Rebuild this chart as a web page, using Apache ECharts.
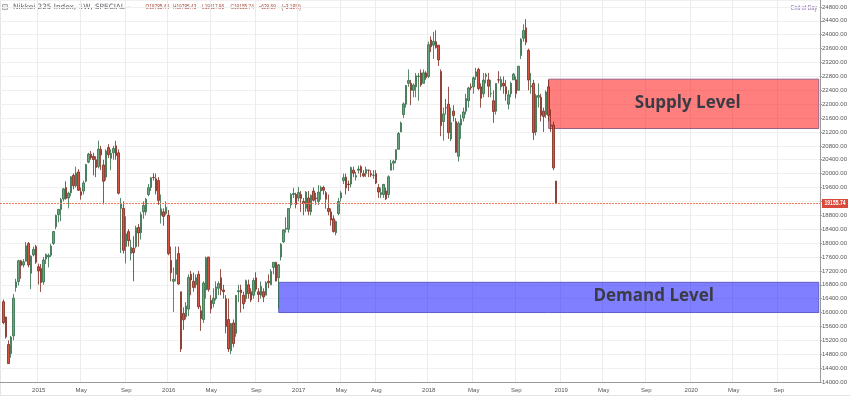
<!DOCTYPE html>
<html>
<head>
<meta charset="utf-8">
<script src="https://cdn.jsdelivr.net/npm/echarts@6/dist/echarts.min.js"></script>
<style>
html,body{margin:0;padding:0;background:#fff;}
#chart{width:850px;height:399px;}
</style>
</head>
<body>
<div id="chart"></div>
<script>
// ---- axis range (weekly categories) ----
const axisFirstWeek = '2014-09-22';
const axisLastWeek = '2020-12-28';
const candleFirstWeek = '2014-09-29';

// ---- weekly OHLC, Nikkei 225 ----
const opens = [
16310,15870,15080,14820,15330,16720,16890,17490,17370,17480,17990,17130,17660,17900,
17320,17270,16880,17540,17600,17650,17990,18470,18820,18970,19270,19600,19300,19450,19950,19650,20050,19480,19500,19780,20330,20560,20500,20400,20200,20700,20250,19900,20750,20440,20600,20800,20600,19000,19000,17900,18330,17700,17850,17900,18450,18300,18900,18900,19400,19600,19890,19850,19800,18800,18900,18850,
18800,17500,16900,17100,17700,16600,15975,15880,16100,17100,16900,16800,17100,16050,15800,16650,17600,16350,16260,16400,16700,17000,16650,16400,15800,14900,15700,15400,16600,16650,16500,16400,16800,16600,16500,17000,16600,16500,16600,16500,16900,16800,17300,17450,17000,17600,18040,18400,18400,19100,19400,19400,
19300,19400,19200,19000,19300,18900,19500,19300,19200,19500,19600,19450,19000,18900,18700,18300,18850,19300,19800,19900,19700,19700,20100,19900,20100,20200,20000,20000,20100,20000,19950,20000,19600,19400,19400,19500,19400,20100,20300,20400,20700,21200,21700,22000,22600,22600,22400,22500,22800,22900,22600,22900,
22800,23850,23700,23800,23700,22940,21500,21900,22000,21000,21800,21500,20500,21400,21600,21800,22100,22500,22500,22800,23000,22500,22300,22800,22700,22300,22100,21800,22700,22500,22600,22500,22000,22300,22700,22700,22400,23400,23900,24200,23550,22500,22600,21200,22200,22200,21800,21700,22500,21400,21400,19785.43
];
const highs = [
16374,15880,15200,15330,16533,16973,17520,17520,17540,18030,18030,17650,17900,17950,
17410,17400,17600,17700,17700,17980,18350,18820,18980,19300,19590,19780,19480,19930,20006,20200,20130,19600,19800,20280,20600,20655,20600,20500,20952,20800,20400,20700,20850,20700,20800,20946,20700,19300,19200,18770,18400,18100,18200,18500,18550,18900,19200,19300,19700,19900,20012,20000,19900,19400,19000,19200,
18951,17900,17300,17900,17900,16600,16150,16300,17100,17200,17150,17100,17200,16200,16900,17613,17600,16500,16700,16900,16900,17251,16800,16500,16400,15700,15800,16500,16800,16800,16600,16950,16950,16700,17000,17159,16700,16900,16700,16900,17100,17250,17450,17450,17400,18000,18400,18746,19000,19439,19592,19450,
19615,19500,19300,19500,19500,19400,19600,19450,19668,19650,19650,19500,19400,19000,18800,18650,19300,19500,20000,20000,19800,20200,20200,20050,20230,20240,20100,20200,20100,20100,20100,20100,19700,19600,19700,19600,19950,20400,20400,20700,21200,21500,22050,22550,23000,22700,22600,22900,22900,23000,23000,22950,
23800,23952,24084,24129,23700,23000,21900,22150,22500,21900,21970,21600,21500,21700,21900,22300,22500,22600,22800,23050,23050,22600,22900,22900,22900,22700,22400,22600,22949,22800,22800,22700,22400,22650,22900,22800,23100,23900,24300,24448,23600,22900,22700,22300,22600,22300,21900,22400,22700,21850,21500,19785.43
];
const lows = [
15661,15250,14529,14700,15200,16600,16780,16973,17300,17470,17300,16672,17620,17400,
16808,16592,16800,17400,17300,17600,17950,18400,18600,18630,19200,19250,19000,19350,19550,19600,19500,19250,19400,19750,20300,20400,19950,19900,20150,20100,19115,19800,20450,20100,20400,20400,19400,17714,17700,17415,17900,17500,16901,17850,17900,18100,18700,18800,19350,19500,19800,19400,19100,18562,18500,18800,
17650,16900,16017,16900,16800,14865,15500,15800,15900,16500,16600,16700,16100,15471,15700,16400,16600,15975,16150,16350,16500,16500,16400,15400,14864,14800,15000,15300,16300,16000,16100,16300,16400,16300,16400,16600,16300,16400,16300,16500,16700,16800,17100,16900,16111,17500,18000,18300,18300,19000,19300,19000,
19200,18900,18800,18900,18800,18800,19200,19100,19100,19250,19400,18990,18800,18500,18300,18224,18800,19200,19700,19400,19500,19600,19900,19800,20000,19900,19900,19900,19900,19900,19850,19700,19300,19300,19300,19239,19300,20100,20100,20300,20700,21200,21600,21900,22500,21972,22200,22200,22100,22500,22600,22700,
22750,23500,23300,23600,23100,21078,20950,21700,21000,20937,21500,20600,20347,21000,21500,21700,21900,22400,22300,22700,22400,21900,22200,22600,22200,22200,21462,21700,22600,22400,22300,22100,21851,22200,22700,22170,22400,23300,23800,23700,22400,22300,20971,21100,21900,21500,21200,21600,21500,21200,20100,19117.96
];
const closes = [
15708,15300,14532,15291,16413,16880,17490,17357,17460,17920,17371,17621,17818,17451,
17197,16864,17511,17674,17648,17913,18332,18798,18971,19254,19560,19286,19435,19908,19652,20020,19520,19379,19732,20264,20563,20460,20407,20174,20706,20539,19779,20650,20544,20585,20724,20519,19435,19136,17792,18264,18070,17880,17725,18438,18291,18825,19083,19265,19596,19879,19883,19504,19230,18986,18769,19033,
17697,17147,16958,17518,16820,14952,15790,16188,17014,16938,16724,17002,16164,15821,16848,17572,16666,16106,16412,16736,16834,16642,16601,15599,14952,15682,15106,16497,16627,16569,16254,16919,16545,16360,16925,16673,16519,16754,16449,16860,16856,17184,17446,16905,17374,17967,18381,18426,18996,19401,19427,19114,
19454,19287,19137,19467,18918,19378,19234,19283,19469,19604,19521,19262,18909,18664,18335,18620,19196,19445,19883,19590,19686,20177,20013,19943,20132,20033,19929,20118,20099,19959,19952,19729,19470,19452,19691,19274,19909,20296,20356,20690,21155,21457,22008,22539,22681,22396,22551,22819,22811,22553,22902,22765,
23714,23653,23808,23632,23274,21382,21720,21892,21181,21469,21676,20617,21454,21567,21778,22162,22467,22472,22758,22930,22450,22171,22694,22851,22516,22304,21788,22597,22697,22712,22525,22298,22270,22601,22865,22307,23094,23870,24120,23784,22694,22532,21184,22243,22250,21680,21647,22351,21679,21375,20166,19155.74
];

// ---- drawn zones (price levels) ----
const supplyZone = { start: '2018-12-03', top: 22720, bottom: 21300, label: 'Supply Level' };
const demandZone = { start: '2016-11-07', top: 16870, bottom: 16000, label: 'Demand Level' };

// ---- axis tick labels ----
const tickLabels = [
['2015-01-05','2015'],['2015-05-04','May'],['2015-09-07','Sep'],
['2016-01-04','2016'],['2016-05-02','May'],['2016-09-05','Sep'],
['2017-01-02','2017'],['2017-05-01','May'],['2017-08-07','Aug'],
['2018-01-01','2018'],['2018-05-07','May'],['2018-09-03','Sep'],
['2019-01-07','2019'],['2019-05-06','May'],['2019-09-02','Sep'],
['2020-01-06','2020'],['2020-05-04','May'],['2020-09-07','Sep']
];
const yMin = 14000, yMax = 25000, yStep = 400;

// ---- header texts ----
const headerTitle = 'Nikkei 225 Index, 1W, SPECIAL';
const headerValues = ['O19785.43','H19785.43','L19117.96','C19155.74','\u2212629.69','(\u22123.18%)'];

// ---------------------------------------------------------
function weekly(a, b) {
  const out = [];
  let t = Date.parse(a + 'T00:00:00Z');
  const e = Date.parse(b + 'T00:00:00Z');
  while (t <= e) { out.push(new Date(t).toISOString().slice(0, 10)); t += 7 * 864e5; }
  return out;
}
const categories = weekly(axisFirstWeek, axisLastWeek);
const firstIdx = categories.indexOf(candleFirstWeek);
const candleData = categories.map((d, i) => {
  const w = i - firstIdx;
  if (w >= 0 && w < closes.length) return [opens[w], closes[w], lows[w], highs[w]];
  return ['-', '-', '-', '-'];
});
const labelMap = {};
tickLabels.forEach(([d, t]) => { labelMap[d] = t; });
const lastCat = categories[categories.length - 1];
const lastClose = closes[closes.length - 1];

const W = 850, gridLeft = 0, gridRight = 28;
const chart = echarts.init(document.getElementById('chart'), null, { renderer: 'canvas' });

const narrow = '"Liberation Sans Narrow", "Arial Narrow", sans-serif';
const sans = '"Liberation Sans", Arial, sans-serif';
const priceLineColor = '#f07a64';
const zoneLabel = (offset) => ({
  show: true, position: 'inside', offset: offset,
  color: '#3b3b45', fontSize: 17, fontWeight: 'bold', fontFamily: '"Open Sans", sans-serif'
});

const valueX = [145.5, 173, 202, 230.5, 258.5, 281.5];

chart.setOption({
  animation: false,
  backgroundColor: '#ffffff',
  grid: { left: gridLeft, right: gridRight, top: 0, bottom: 17, containLabel: false },
  xAxis: {
    type: 'category',
    data: categories,
    boundaryGap: true,
    axisLine: { show: true, lineStyle: { color: '#9a9a9a', width: 1 } },
    axisTick: { show: false },
    axisLabel: {
      interval: (i, v) => labelMap[v] !== undefined,
      formatter: (v) => labelMap[v] || '',
      fontSize: 6, fontFamily: narrow, color: '#555', margin: 5
    },
    splitLine: { show: true, interval: (i, v) => labelMap[v] !== undefined, lineStyle: { color: '#ececec', width: 1 } }
  },
  yAxis: {
    type: 'value',
    position: 'right',
    min: yMin, max: yMax, interval: yStep,
    axisLine: { show: true, lineStyle: { color: '#9a9a9a', width: 1 } },
    axisTick: { show: true, length: 2, lineStyle: { color: '#9a9a9a' } },
    axisLabel: {
      fontSize: 6, fontFamily: narrow, color: '#555', margin: 2,
      formatter: (v) => v.toFixed(2), showMaxLabel: false
    },
    splitLine: { show: true, lineStyle: { color: '#f0f0f0', width: 1 } }
  },
  series: [{
    type: 'candlestick',
    data: candleData,
    barWidth: 2,
    itemStyle: {
      color: '#6ba583', color0: '#d75442',
      borderColor: '#2f6b45', borderColor0: '#7a2a1e', borderWidth: 0.8
    },
    markArea: {
      silent: true,
      data: [
        [
          { name: supplyZone.label, xAxis: supplyZone.start, yAxis: supplyZone.top,
            itemStyle: { color: 'rgba(255,0,0,0.5)', borderColor: '#9b5f86', borderWidth: 1 },
            label: zoneLabel([4, -1]) },
          { xAxis: lastCat, yAxis: supplyZone.bottom }
        ],
        [
          { name: demandZone.label, xAxis: demandZone.start, yAxis: demandZone.top,
            itemStyle: { color: 'rgba(0,0,255,0.5)', borderColor: '#5e5ec8', borderWidth: 1 },
            label: zoneLabel([105, -1]) },
          { xAxis: lastCat, yAxis: demandZone.bottom }
        ]
      ]
    }
  }],
  graphic: [
    { type: 'line', silent: true, shape: { x1: 0, y1: 395.5, x2: W, y2: 395.5 }, style: { stroke: '#e4e4e4', lineWidth: 1 } },
    { type: 'line', silent: true, shape: { x1: 0.5, y1: 0, x2: 0.5, y2: 395 }, style: { stroke: '#e4e4e4', lineWidth: 1 } },
    { type: 'rect', silent: true, shape: { x: 2.5, y: 4.5, width: 5, height: 5 }, style: { fill: '#e8e8e8', stroke: '#b0b0b0', lineWidth: 1 } },
    { type: 'text', silent: true, x: 13, y: 7.5,
      style: { text: headerTitle, fill: '#5f5f66', font: '7.3px "DejaVu Sans", sans-serif', verticalAlign: 'middle', textVerticalAlign: 'middle' } },
    { type: 'text', silent: true, x: 127, y: 7.5,
      style: { text: '\u2013', fill: '#888', font: '7px "DejaVu Sans", sans-serif', verticalAlign: 'middle', textVerticalAlign: 'middle' } }
  ].concat(headerValues.map((t, i) => ({
    type: 'text', silent: true, x: valueX[i], y: 7.5, scaleX: 0.68,
    style: { text: t, fill: '#a84a3e', font: '7px ' + sans, verticalAlign: 'middle', textVerticalAlign: 'middle' }
  }))).concat([
    { type: 'text', silent: true, x: 817, y: 8, scaleX: 0.75,
      style: { text: 'End of Day', fill: '#8c6bb1', font: '7px ' + sans, align: 'right', textAlign: 'right', verticalAlign: 'middle', textVerticalAlign: 'middle' } }
  ])
});

// last-price line + tag, positioned through the value axis scale
const yPix = chart.convertToPixel({ yAxisIndex: 0 }, lastClose);
const yLine = Math.round(yPix) + 0.5;
const plotRight = W - gridRight;
chart.setOption({
  graphic: [
    { id: 'priceLine', type: 'line', silent: true, z: 50,
      shape: { x1: gridLeft, y1: yLine, x2: plotRight, y2: yLine },
      style: { stroke: priceLineColor, lineWidth: 1, lineDash: [2, 1] } },
    { id: 'priceTag', type: 'rect', silent: true, z: 50,
      shape: { x: plotRight, y: yLine - 4.5, width: 26, height: 9 },
      style: { fill: '#d9483b' } },
    { id: 'priceTagText', type: 'text', silent: true, z: 51, x: plotRight + 2.5, y: yLine,
      style: { text: lastClose.toFixed(2), fill: '#ffffff', font: 'bold 7px ' + sans, verticalAlign: 'middle', textVerticalAlign: 'middle' },
      scaleX: 0.72 }
  ]
});
</script>
</body>
</html>
